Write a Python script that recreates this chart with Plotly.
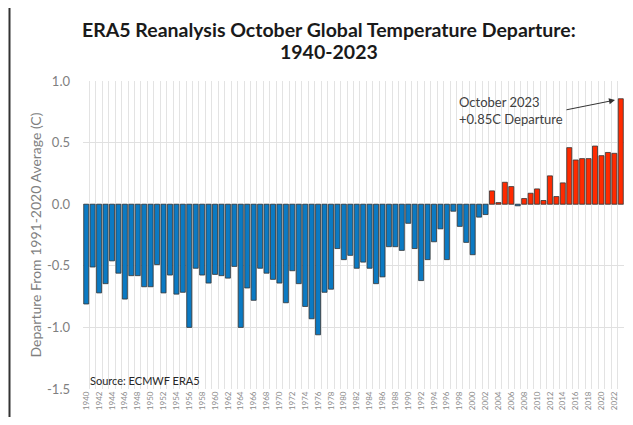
import plotly.graph_objects as go

years = list(range(1940, 2024))
departures = [
    -0.81, -0.51, -0.72, -0.645, -0.46, -0.56, -0.77, -0.58, -0.58, -0.67,
    -0.67, -0.49, -0.72, -0.575, -0.73, -0.715, -1.00, -0.52, -0.575, -0.64,
    -0.57, -0.58, -0.60, -0.505, -1.00, -0.68, -0.78, -0.52, -0.56, -0.61,
    -0.64, -0.80, -0.54, -0.645, -0.83, -0.93, -1.06, -0.715, -0.69, -0.36,
    -0.45, -0.415, -0.52, -0.47, -0.52, -0.645, -0.59, -0.345, -0.345, -0.375,
    -0.155, -0.36, -0.62, -0.45, -0.305, -0.20, -0.45, -0.057, -0.18, -0.31,
    -0.41, -0.105, -0.084, 0.108, 0.013, 0.178, 0.143, -0.013, 0.046, 0.089,
    0.124, 0.03, 0.23, 0.062, 0.173, 0.459, 0.359, 0.37, 0.37, 0.472,
    0.394, 0.42, 0.413, 0.856,
]
tick_years = list(range(1940, 2024, 2))
y_ticks = [1.0, 0.5, 0.0, -0.5, -1.0, -1.5]
y_tick_labels = ["1.0", "0.5", "0.0", "-0.5", "-1.0", "-1.5"]

BLUE = "#0b7ac3"
RED = "#ff2a00"
colors = [RED if v > 0 else BLUE for v in departures]

fig = go.Figure(go.Bar(
    x=years, y=departures,
    marker=dict(color=colors, line=dict(color="#333333", width=0.8)),
    hoverinfo="x+y",
))

# the page body adds an 8px offset; keep the figure inside the visible window
OFF = 8
W, H = 617, 409
ml, mr, mt, mb = 75, 1, 73, 28
pw, ph = W - ml - mr, H - mt - mb

def px(xp):
    return (xp - OFF - ml) / pw

def py(yp):
    return 1 - (yp - OFF - mt) / ph

font_main = "Lato, 'Open Sans', sans-serif"

fig.update_layout(
    width=W, height=H,
    margin=dict(l=ml, r=mr, t=mt, b=mb),
    paper_bgcolor="white", plot_bgcolor="white",
    bargap=0.22,
    showlegend=False,
    font=dict(family=font_main, color="#7f7f7f"),
    xaxis=dict(
        range=[1939.5, 2023.5],
        tickmode="array", tickvals=tick_years, ticktext=[str(y) for y in tick_years],
        tickangle=-90, tickfont=dict(size=8, color="#8c8c8c"),
        showgrid=False, zeroline=False, showline=False, ticks="",
        minor=dict(tick0=1939.5, dtick=1, showgrid=True, gridcolor="#e3e3e3", gridwidth=1),
    ),
    yaxis=dict(
        range=[-1.5, 1.0],
        tickmode="array", tickvals=y_ticks, ticktext=y_tick_labels,
        tickfont=dict(size=13, color="#7f7f7f"),
        ticklabelstandoff=12,
        showgrid=True, gridcolor="#e0e0e0", gridwidth=1,
        zeroline=True, zerolinecolor="#d9d9d9", zerolinewidth=1,
        ticks="", showline=False,
        title=dict(text="Departure From 1991-2020 Average (C)",
                   font=dict(size=14, color="#7f7f7f"), standoff=2),
    ),
    annotations=[
        dict(xref="paper", yref="paper", x=px(328.5), y=py(29), xanchor="center", yanchor="middle",
             text="<b>ERA5 Reanalysis October Global Temperature Departure:</b>", showarrow=False,
             font=dict(size=19.5, color="#1a1a1a", family=font_main)),
        dict(xref="paper", yref="paper", x=px(328.5), y=py(51), xanchor="center", yanchor="middle",
             text="<b>1940-2023</b>", showarrow=False,
             font=dict(size=19.5, color="#1a1a1a", family=font_main)),
        dict(xref="x", yref="y", x=2022.1, y=0.845, ax=-50, ay=10,
             text="", showarrow=True, arrowhead=2, arrowsize=1.2, arrowwidth=1,
             arrowcolor="#333333"),
        dict(xref="paper", yref="paper", x=px(457), y=py(92), xanchor="left", yanchor="top",
             text="October 2023<br>+0.85C Departure", showarrow=False, align="left",
             font=dict(size=13, color="#404040", family=font_main)),
        dict(xref="paper", yref="paper", x=px(88), y=py(372), xanchor="left", yanchor="top",
             text="Source: ECMWF ERA5", showarrow=False,
             font=dict(size=11, color="#262626", family=font_main)),
    ],
    shapes=[
        dict(type="line", xref="paper", yref="paper",
             x0=px(9.5), x1=px(9.5), y0=py(0), y1=py(430), line=dict(color="#333333", width=2)),
    ],
)

fig.write_html("out.html")
